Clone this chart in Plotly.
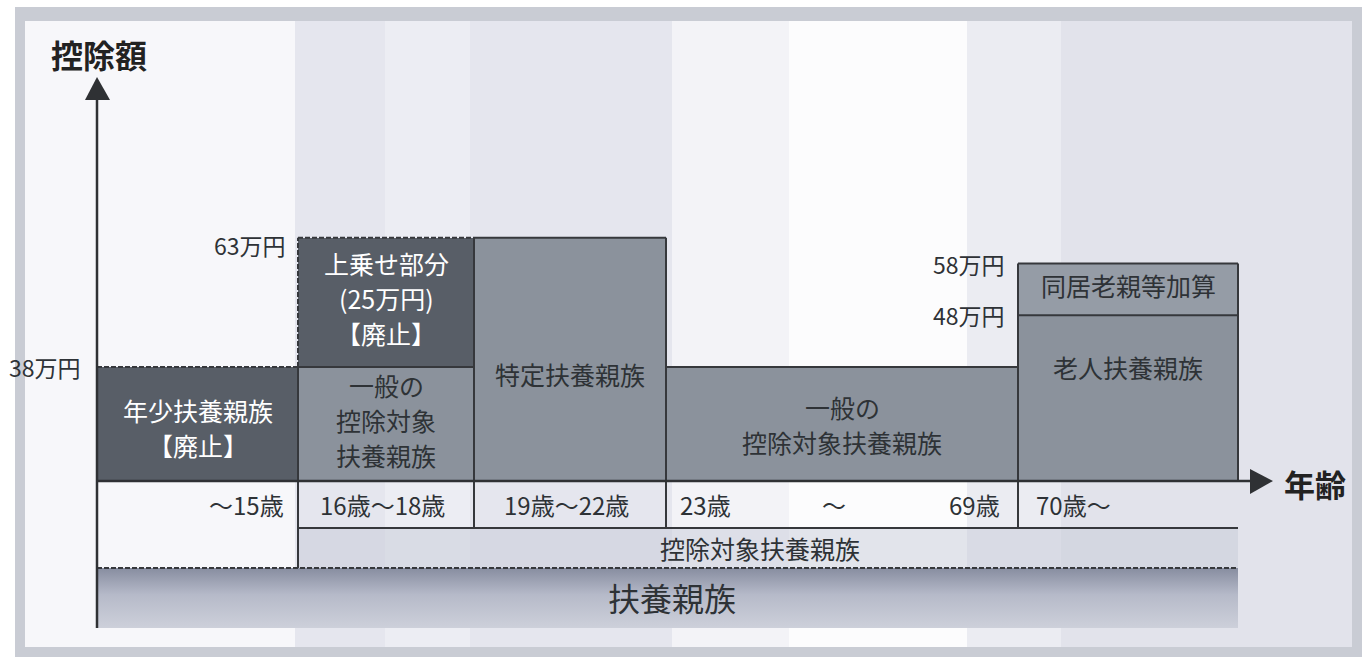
import plotly.graph_objects as go

# ---------------- data ----------------
age_groups = ["～15歳", "16歳～18歳", "19歳～22歳", "23歳～69歳", "70歳～"]
base_amount = [38, 38, 63, 38, 48]          # 万円
extra_amount = [0, 25, 0, 0, 10]            # 万円 (上乗せ部分 / 同居老親等加算)
base_labels = ["年少扶養親族<br>【廃止】", "一般の<br>控除対象<br>扶養親族",
               "特定扶養親族", "一般の<br>控除対象扶養親族", "老人扶養親族"]
extra_labels = ["", "上乗せ部分<br>(25万円)<br>【廃止】", "", "", "同居老親等加算"]
base_abolished = [True, False, False, False, False]
extra_abolished = [False, True, False, False, False]
value_ticks = [38, 63, 58, 48]
value_tick_text = ["38万円", "63万円", "58万円", "48万円"]
row_label = "控除対象扶養親族"
band_label = "扶養親族"
y_title = "控除額"
x_title = "年齢"

# ---------------- layout constants (pixels) ----------------
W, H = 1371, 662
FONT = "Noto Sans CJK JP"
col_edges = [97, 298, 474, 666, 1018, 1238]
BASE_PX = 481
AGE_ROW = (481, 528)
SUB_ROW = (528, 568)
BAND = (568, 628)
PX_PER_MAN = 5.175          # schematic (broken) value axis
Y2_MIN = 15.98
Y2_MAX = Y2_MIN + BASE_PX / PX_PER_MAN
LINE = "#36383c"
DARK = "#585e67"
MID = "#8b929c"
MID2 = "#959ca6"
TXT_DARK = "#2e3236"
label_yshift = [-3, 4, -15, 0, 31]
LINE_SP = 35
BOX_FS = 25
tick_x = [83, 288, 1007, 1007]
tick_yshift = [0, -7, 0, 0]
DASH = "5px,2px"

centers = [(col_edges[i] + col_edges[i + 1]) / 2 for i in range(5)]
widths = [col_edges[i + 1] - col_edges[i] for i in range(5)]

fig = go.Figure()
shapes = []
annotations = []

# ---------------- background ----------------
shapes.append(dict(type="rect", xref="x", yref="y", x0=15, x1=1362, y0=7, y1=657,
                   fillcolor="#c9ccd4", line_width=0, layer="below"))
stripes = [(25, 295, "#f7f7fa"), (295, 385, "#e5e6ee"), (385, 470, "#ecedf3"),
           (470, 672, "#e5e6ee"), (672, 789, "#f3f3f7"), (789, 967, "#fcfcfd"),
           (967, 1061, "#ebecf2"), (1061, 1352, "#e2e3eb")]
for x0, x1, c in stripes:
    shapes.append(dict(type="rect", xref="x", yref="y", x0=x0, x1=x1, y0=21, y1=647,
                       fillcolor=c, line_width=0, layer="below"))

# ---------------- bars (value axis y2) ----------------
base_colors = [DARK if a else MID for a in base_abolished]
extra_colors = [DARK if a else MID2 for a in extra_abolished]
fig.add_trace(go.Bar(x=centers, y=base_amount, base=0, width=widths,
                     marker=dict(color=base_colors, line_width=0),
                     xaxis="x", yaxis="y2", hoverinfo="skip", showlegend=False))
fig.add_trace(go.Bar(x=centers, y=extra_amount, base=base_amount, width=widths,
                     marker=dict(color=extra_colors, line_width=0),
                     xaxis="x", yaxis="y2", hoverinfo="skip", showlegend=False))


def seg(x0, y0, x1, y1, dashed=False, yref="y2", w=2, color=LINE):
    shapes.append(dict(type="line", xref="x", yref=yref, x0=x0, y0=y0, x1=x1, y1=y1,
                       line=dict(color=color, width=w, dash=DASH if dashed else "solid")))


def multiline(x, y, yref, text, size, color, yshift=0, sp=LINE_SP, **kw):
    lines = text.split("<br>")
    n = len(lines)
    for k, ln in enumerate(lines):
        annotations.append(dict(x=x, y=y, xref="x", yref=yref, text=ln, showarrow=False,
                                yshift=yshift + (n - 1) / 2 * sp - k * sp,
                                font=dict(family=FONT, size=size, color=color), **kw))


tops = [b + e for b, e in zip(base_amount, extra_amount)]
for i in range(5):
    x0, x1 = col_edges[i], col_edges[i + 1]
    if extra_amount[i] > 0:
        seg(x0, base_amount[i], x1, base_amount[i], base_abolished[i] and extra_abolished[i])
        seg(x0, tops[i], x1, tops[i], extra_abolished[i])
    else:
        seg(x0, tops[i], x1, tops[i], base_abolished[i])

# vertical edges between columns
for i in range(1, 5):
    xb = col_edges[i]
    lo, hi = min(tops[i - 1], tops[i]), max(tops[i - 1], tops[i])
    seg(xb, Y2_MIN, xb, lo)
    if hi > lo:
        owner = i if tops[i] > tops[i - 1] else i - 1
        ab = extra_abolished[owner] if extra_amount[owner] > 0 else base_abolished[owner]
        seg(xb, lo, xb, hi, ab)
seg(col_edges[-1], Y2_MIN, col_edges[-1], tops[-1])

# box labels
for i in range(5):
    bc = "white" if base_abolished[i] else TXT_DARK
    multiline(centers[i], (Y2_MIN + base_amount[i]) / 2, "y2", base_labels[i], BOX_FS, bc,
              yshift=label_yshift[i])
    if extra_amount[i] > 0:
        ec = "white" if extra_abolished[i] else TXT_DARK
        multiline(centers[i], base_amount[i] + extra_amount[i] / 2, "y2", extra_labels[i],
                  BOX_FS, ec, yshift=4)

# value labels
for v, t, xx, ys in zip(value_ticks, value_tick_text, tick_x, tick_yshift):
    annotations.append(dict(x=xx, y=v, xref="x", yref="y2", text=t, showarrow=False,
                            xanchor="right", yshift=ys,
                            font=dict(family=FONT, size=23, color=TXT_DARK)))

# ---------------- age rows ----------------
shapes.append(dict(type="rect", xref="x", yref="y", x0=col_edges[1], x1=col_edges[-1],
                   y0=SUB_ROW[0], y1=SUB_ROW[1], fillcolor="rgba(196,199,212,0.45)",
                   line_width=0, layer="below"))
seg(col_edges[1], AGE_ROW[1], col_edges[-1], AGE_ROW[1], yref="y")
seg(col_edges[1], AGE_ROW[0], col_edges[1], SUB_ROW[1], yref="y")
for xb in col_edges[2:5]:
    seg(xb, AGE_ROW[0], xb, AGE_ROW[1], yref="y")

age_mid = (AGE_ROW[0] + AGE_ROW[1]) / 2
AGE_FS = 24
for i, g in enumerate(age_groups):
    x0, x1 = col_edges[i], col_edges[i + 1]
    f = dict(family=FONT, size=AGE_FS, color=TXT_DARK)
    if i == 0:
        annotations.append(dict(x=x1 - 12, y=age_mid, xref="x", yref="y", text=g,
                                showarrow=False, xanchor="right", font=f))
    elif i == 3:
        a, b = g.split("～")
        annotations.append(dict(x=x0 + 12, y=age_mid, xref="x", yref="y", text=a,
                                showarrow=False, xanchor="left", font=f))
        annotations.append(dict(x=(x0 + x1) / 2 - 8, y=age_mid, xref="x", yref="y", text="～",
                                showarrow=False, font=f))
        annotations.append(dict(x=x1 - 16, y=age_mid, xref="x", yref="y", text=b,
                                showarrow=False, xanchor="right", font=f))
    elif i == 4:
        annotations.append(dict(x=x0 + 16, y=age_mid, xref="x", yref="y", text=g,
                                showarrow=False, xanchor="left", font=f))
    else:
        annotations.append(dict(x=(x0 + x1) / 2 - 4, y=age_mid, xref="x", yref="y", text=g,
                                showarrow=False, font=f))

annotations.append(dict(x=(col_edges[1] + col_edges[-1]) / 2 - 8, y=sum(SUB_ROW) / 2,
                        xref="x", yref="y", text=row_label, showarrow=False,
                        font=dict(family=FONT, size=25, color=TXT_DARK)))

# gradient band
bx = [col_edges[0], col_edges[-1], col_edges[-1], col_edges[0], col_edges[0]]
by = [BAND[0], BAND[0], BAND[1], BAND[1], BAND[0]]
fig.add_trace(go.Scatter(x=bx, y=by, xaxis="x", yaxis="y", mode="lines", fill="toself",
                         line=dict(width=0), hoverinfo="skip", showlegend=False,
                         fillgradient=dict(type="vertical", start=BAND[0], stop=BAND[1],
                                           colorscale=[[0, "#878da0"], [0.45, "#b6bac9"],
                                                       [1, "#cdd0da"]])))
seg(col_edges[0], BAND[0], col_edges[-1], BAND[0], dashed=True, yref="y")
annotations.append(dict(x=(col_edges[0] + col_edges[-1]) / 2 + 4, y=sum(BAND) / 2 - 1,
                        xref="x", yref="y", text=band_label, showarrow=False,
                        font=dict(family=FONT, size=32, color="#2e3236")))

# ---------------- axes arrows ----------------
AX = "#2f3134"
seg(col_edges[0], BAND[1], col_edges[0], 98, yref="y", w=2.5, color=AX)
shapes.append(dict(type="path", xref="x", yref="y",
                   path="M 97 77 L 85 100 L 110 100 Z", fillcolor=AX, line_width=0))
seg(col_edges[0], BASE_PX, 1252, BASE_PX, yref="y", w=2.5, color=AX)
shapes.append(dict(type="path", xref="x", yref="y",
                   path="M 1273 481 L 1250 469 L 1250 494 Z", fillcolor=AX, line_width=0))
annotations.append(dict(x=99, y=54, xref="x", yref="y", text="<b>" + y_title + "</b>",
                        showarrow=False, font=dict(family=FONT, size=32, color="#222")))
annotations.append(dict(x=1282, y=483, xref="x", yref="y", text="<b>" + x_title + "</b>",
                        showarrow=False, xanchor="left",
                        font=dict(family=FONT, size=31, color="#222")))

fig.update_layout(
    width=W, height=H, margin=dict(l=0, r=0, t=0, b=0, pad=0),
    paper_bgcolor="white", plot_bgcolor="rgba(0,0,0,0)",
    barmode="overlay", bargap=0,
    xaxis=dict(range=[0, W], domain=[0, 1], visible=False, fixedrange=True),
    yaxis=dict(range=[H, 0], domain=[0, 1], visible=False, fixedrange=True),
    yaxis2=dict(range=[Y2_MIN, Y2_MAX], domain=[1 - BASE_PX / H, 1], anchor="x",
                visible=False, fixedrange=True),
    shapes=shapes, annotations=annotations, showlegend=False,
)

fig.write_html("out.html", config={"displayModeBar": False},
               post_script="document.body.style.margin='0';document.body.style.padding='0';")
